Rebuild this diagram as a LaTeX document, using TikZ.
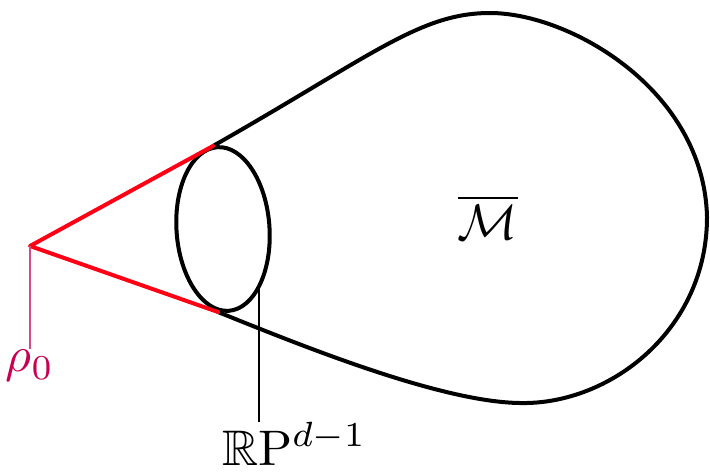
\documentclass[tikz,border=0pt]{standalone}
\usepackage{amssymb}
\usetikzlibrary{shapes.geometric}
\definecolor{rhocol}{RGB}{200,0,80}
\definecolor{conered}{RGB}{255,0,20}
\begin{document}
\begin{tikzpicture}[x=0.5pt,y=-0.5pt,
  thick line/.style={line width=2pt,line join=round,line cap=round},
  thin line/.style={line width=0.8pt},
  biglabel/.style={inner sep=0pt,scale=2.5}]
\useasboundingbox (0,0) rectangle (710,472);
% points
\coordinate (apex) at (30,246);
\coordinate (jt) at (213,146);
\coordinate (jb) at (218,312);
% teardrop
\draw[thick line] (jt) .. controls (373,55) and (420,13) .. (490,13)
  .. controls (570,13) and (704,90) .. (707,217)
  .. controls (707,330) and (610,405) .. (520,403)
  .. controls (440,402) and (300,345) .. (jb);
% ellipse
\node[draw,ellipse,line width=2pt,minimum width=46.5pt,minimum height=82pt,inner sep=0pt,outer sep=0pt,rotate=4] (ell) at (223,229) {};
% red cone
\draw[thick line,conered] (jt) -- (apex) -- (jb);
% labels
\node[biglabel,text=rhocol] (rho) at (30,366) {$\rho_0$};
\node[biglabel,anchor=base west] (rp) at (221,465) {$\mathbb{R}\mathrm{P}^{d-1}$};
\node[biglabel] (M) at (488,217) {$\overline{\mathcal{M}}$};
% connectors
\draw[thin line,rhocol!70] (apex) -- (apex |- rho.north);
\draw[thin line] (ell.-62) -- (ell.-62 |- rp.north);
\end{tikzpicture}
\end{document}
